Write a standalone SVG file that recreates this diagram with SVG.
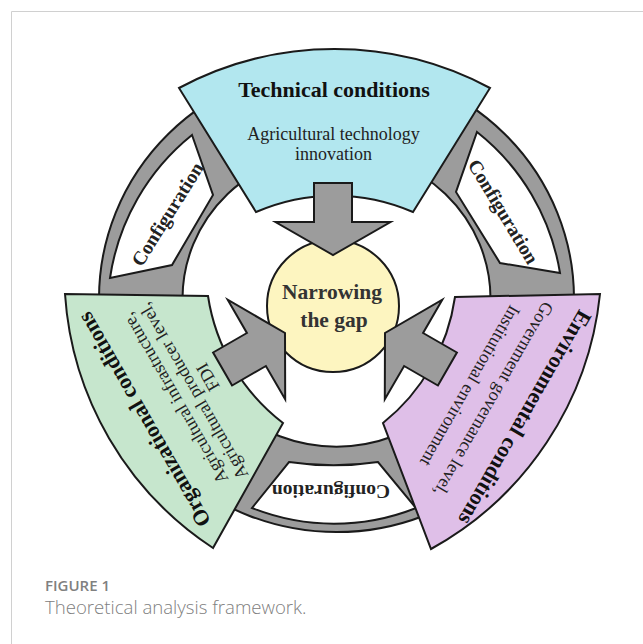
<svg xmlns="http://www.w3.org/2000/svg" width="643" height="644" viewBox="0 0 643 644">
<style>
.ol{stroke:#1a1a1a;stroke-width:2;stroke-linejoin:miter}
.gray{fill:#9c9c9c}
.cfg{fill:#ffffff}
.serif{font-family:"Liberation Serif","Times New Roman",serif;text-anchor:middle}
.title{font-size:22px;font-weight:bold;fill:#111}
.sub{font-size:18px;fill:#222}
.cfgt{font-size:19.5px;font-weight:bold;fill:#222}
.mid{font-size:21.5px;font-weight:bold;fill:#333}
.cap{font-family:"Open Sans","Liberation Sans",sans-serif;fill:#808080}
</style>
<rect width="643" height="644" fill="#ffffff"/>
<path d="M11.5,644 V11.5 H643" fill="none" stroke="#d0d0d0" stroke-width="1"/>

<g id="ring">
<path class="gray ol" fill-rule="evenodd" d="M99,298.7 a237.5,233.3 0 1,0 475,0 a237.5,233.3 0 1,0 -475,0 Z M182.5,298.7 a154,148 0 1,0 308,0 a154,148 0 1,0 -308,0 Z"/>
</g>

<g id="config-left">
<path class="cfg ol" d="M192,135 L213,195 L172,265 L110,278 A226,226 0 0 1 192,135 Z"/>
<text class="serif cfgt" transform="translate(173,217.7) rotate(-58)">Configuration</text>
</g>
<g id="config-right">
<path class="cfg ol" d="M477,132 A226,226 0 0 1 560,273 L500,263 L456,192 Z"/>
<text class="serif cfgt" transform="translate(497.7,215) rotate(59)">Configuration</text>
</g>
<g id="config-bottom">
<path class="cfg ol" d="M289,462 A300,300 0 0 0 378,462 L416,508 A222,222 0 0 1 252,508 Z"/>
<text class="serif cfgt" transform="translate(331,485) rotate(180)">Configuration</text>
</g>

<g id="technical">
<path class="ol" fill="#b2e7ef" d="M179,88 A330,330 0 0 1 490,88 L413,212 A197,197 0 0 0 256,212 Z"/>
<text class="serif title" x="334" y="97.3">Technical conditions</text>
<text class="serif sub" x="333.5" y="140">Agricultural technology</text>
<text class="serif sub" x="333.5" y="159.5">innovation</text>
</g>

<g id="organizational">
<path class="ol" fill="#c6e6cd" d="M65,294 L208,296 A197,197 0 0 0 283,423 L213,548 A330,330 0 0 1 65,294 Z"/>
<g transform="translate(150.5,415.9) rotate(-120)">
<text class="serif title" x="0" y="0">Organizational conditions</text>
<text class="serif sub" x="3" y="36">Agricultural infrastructure,</text>
<text class="serif sub" x="0" y="55.5">Agricultural producer level,</text>
<text class="serif sub" x="5" y="75">FDI</text>
</g>
</g>

<g id="environmental">
<path class="ol" fill="#dfbfe8" d="M455,297 L600,294 A330,330 0 0 1 431,549 L383,423 A197,197 0 0 0 455,297 Z"/>
<g transform="translate(518.7,413.9) rotate(120)">
<text class="serif title" x="0" y="0">Environmental conditions</text>
<text class="serif sub" x="0" y="35">Government governance level,</text>
<text class="serif sub" x="0" y="62">Institutional environment</text>
</g>
</g>

<g id="center">
<circle class="ol" cx="333" cy="306" r="66" fill="#fdf5c0"/>
<text class="serif mid" x="332" y="299.3">Narrowing</text>
<text class="serif mid" x="334" y="327.3">the gap</text>
</g>

<g id="connectors">
<polygon class="gray ol" points="314,183 352,183 352,222 390.5,222 333,255 275.5,222 314,222"/>
<polygon class="gray ol" points="232.1,385.5 213.1,352.5 246.9,333 227.7,299.7 285,333 285.2,399.3 265.9,366"/>
<polygon class="gray ol" points="437.9,385.5 456.9,352.5 423.1,333 442.3,299.7 385,333 384.8,399.3 404.1,366"/>
</g>

<text class="cap" x="45" y="590.7" font-size="15" font-weight="600">FIGURE 1</text>
<text class="cap" x="45" y="614" font-size="18.6" font-weight="300">Theoretical analysis framework.</text>
</svg>
